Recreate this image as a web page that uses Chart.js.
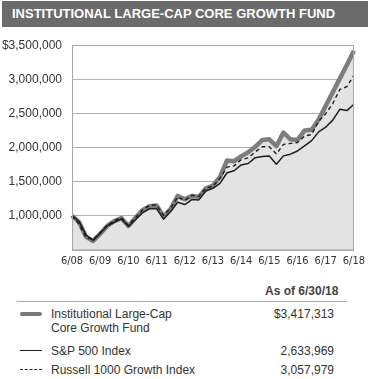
<!DOCTYPE html>
<html>
<head>
<meta charset="utf-8">
<script src="https://cdn.jsdelivr.net/npm/chart.js@4.4.1/dist/chart.umd.min.js"></script>
<style>
  body { margin: 0; background: #fff; font-family: "Liberation Sans", Arial, sans-serif; color: #333; }
  #wrap { position: relative; width: 370px; height: 379px; overflow: hidden; }
  .title { position: absolute; left: 2px; top: 1px; width: 366px; height: 26px; background: #6b6b6b;
           color: #fff; font-weight: bold; font-size: 13px; line-height: 26px; padding-left: 10px; box-sizing: border-box; }
  #chartBox { position: absolute; left: 0; top: 28px; width: 370px; height: 251px; }
  .t { position: absolute; font-size: 12px; line-height: 14px; white-space: nowrap; }
  .r { text-align: right; }
  .sample { position: absolute; left: 20px; width: 22px; }
</style>
</head>
<body>
<div id="wrap">
  <div class="title">INSTITUTIONAL LARGE-CAP CORE GROWTH FUND</div>
  <div id="chartBox"><canvas id="growthChart"></canvas></div>

  <div class="t" style="left:265px; top:284px; font-weight:bold; color:#444;">As of 6/30/18</div>
  <div style="position:absolute; left:17px; top:301px; width:330px; border-top:1px solid #aaa;"></div>

  <div class="sample" style="top:312px; border-top:4px solid #7a7a7a; border-radius:2px;"></div>
  <div class="t" style="left:51px; top:307px;">Institutional Large-Cap<br>Core Growth Fund</div>
  <div class="t r" id="v0" style="right:36px; top:307px;"></div>

  <div class="sample" style="top:350px; border-top:1.5px solid #222;"></div>
  <div class="t" style="left:51px; top:344px;">S&amp;P 500 Index</div>
  <div class="t r" id="v1" style="right:36px; top:344px;"></div>

  <div class="sample" style="top:369px; border-top:1.5px dashed #222;"></div>
  <div class="t" style="left:51px; top:363px;">Russell 1000 Growth Index</div>
  <div class="t r" id="v2" style="right:36px; top:363px;"></div>
</div>

<script>
// quarter ends, 6/08 .. 6/18
const quarters = [
  '6/08','9/08','12/08','3/09','6/09','9/09','12/09','3/10','6/10','9/10','12/10',
  '3/11','6/11','9/11','12/11','3/12','6/12','9/12','12/12','3/13','6/13','9/13',
  '12/13','3/14','6/14','9/14','12/14','3/15','6/15','9/15','12/15','3/16','6/16',
  '9/16','12/16','3/17','6/17','9/17','12/17','3/18','6/18'
];

const fundValues = [
  1000000, 905000, 690000, 630000, 735000, 850000, 920000, 965000, 850000, 970000, 1080000,
  1140000, 1150000, 985000, 1100000, 1290000, 1240000, 1290000, 1275000, 1400000, 1440000, 1570000,
  1810000, 1800000, 1870000, 1930000, 2010000, 2110000, 2120000, 2020000, 2220000, 2120000, 2110000,
  2250000, 2260000, 2410000, 2610000, 2810000, 3010000, 3210000, 3417313
];

const sp500Values = [
  1000000, 916000, 715000, 637000, 738000, 853000, 904000, 953000, 844000, 940000, 1041000,
  1102000, 1103000, 950000, 1062000, 1196000, 1163000, 1237000, 1232000, 1363000, 1402000, 1475000,
  1630000, 1659000, 1745000, 1765000, 1851000, 1869000, 1874000, 1754000, 1877000, 1902000, 1949000,
  2024000, 2101000, 2229000, 2298000, 2401000, 2560000, 2541000, 2633969
];

const russellValues = [
  1000000, 877000, 677000, 649000, 755000, 861000, 929000, 972000, 858000, 969000, 1084000,
  1150000, 1158000, 1006000, 1113000, 1276000, 1225000, 1300000, 1283000, 1405000, 1434000, 1550000,
  1712000, 1731000, 1820000, 1847000, 1935000, 2010000, 2012000, 1906000, 2045000, 2060000, 2073000,
  2168000, 2190000, 2385000, 2496000, 2644000, 2851000, 2892000, 3057979
];

const yTicks = [500000, 1000000, 1500000, 2000000, 2500000, 3000000, 3500000];

const fmt = (n) => n.toLocaleString('en-US');

document.getElementById('v0').innerText = '$' + fmt(fundValues[fundValues.length - 1]);
document.getElementById('v1').innerText = fmt(sp500Values[sp500Values.length - 1]);
document.getElementById('v2').innerText = fmt(russellValues[russellValues.length - 1]);

// box round the plot area
const frame = {
  id: 'frame',
  afterDatasetsDraw(chart) {
    const a = chart.chartArea, ctx = chart.ctx;
    ctx.save();
    ctx.strokeStyle = '#a8a8a8';
    ctx.lineWidth = 1;
    ctx.strokeRect(Math.round(a.left) + 0.5, Math.round(a.top) + 0.5,
                   Math.round(a.right - a.left) - 1, Math.round(a.bottom - a.top));
    ctx.restore();
  }
};

new Chart(document.getElementById('growthChart'), {
  type: 'line',
  data: {
    labels: quarters,
    datasets: [
      {
        label: 'Institutional Large-Cap Core Growth Fund',
        data: fundValues,
        borderColor: '#7d7d7d',
        backgroundColor: '#e3e3e3',
        borderWidth: 4.5,
        fill: 'start',
        order: 3
      },
      {
        label: 'S&P 500 Index',
        data: sp500Values,
        borderColor: '#1e1e1e',
        borderWidth: 1.5,
        fill: false,
        order: 2
      },
      {
        label: 'Russell 1000 Growth Index',
        data: russellValues,
        borderColor: '#1e1e1e',
        borderWidth: 1.4,
        borderDash: [4, 3],
        fill: false,
        order: 1
      }
    ]
  },
  options: {
    responsive: true,
    maintainAspectRatio: false,
    animation: false,
    elements: { point: { radius: 0 }, line: { tension: 0, borderJoinStyle: 'round' } },
    layout: { padding: { top: 13, right: 14, left: 0, bottom: 6 } },
    plugins: {
      legend: { display: false },
      tooltip: { enabled: false },
      filler: { drawTime: 'beforeDatasetsDraw' }
    },
    scales: {
      x: {
        grid: { display: false, drawTicks: false },
        border: { display: false },
        ticks: {
          autoSkip: false,
          maxRotation: 0,
          padding: 5,
          color: '#333',
          font: { family: '"Liberation Sans Narrow", "DejaVu Sans Condensed", sans-serif', size: 11 },
          callback: function(value, index) {
            const q = quarters[index];
            return q.startsWith('6/') ? q : '';
          }
        }
      },
      y: {
        min: yTicks[0],
        max: yTicks[yTicks.length - 1],
        afterFit: function(scale) { scale.width = 72; },
        afterBuildTicks: function(scale) { scale.ticks = yTicks.map(v => ({ value: v })); },
        grid: { color: '#b0b0b0', drawTicks: false },
        border: { display: false },
        ticks: {
          padding: 10,
          color: '#333',
          font: { family: '"Liberation Sans", Arial, sans-serif', size: 12 },
          callback: function(value) {
            if (value === yTicks[0]) return '';
            if (value === yTicks[yTicks.length - 1]) return '$' + fmt(value);
            return fmt(value);
          }
        }
      }
    }
  },
  plugins: [frame]
});
</script>
</body>
</html>
